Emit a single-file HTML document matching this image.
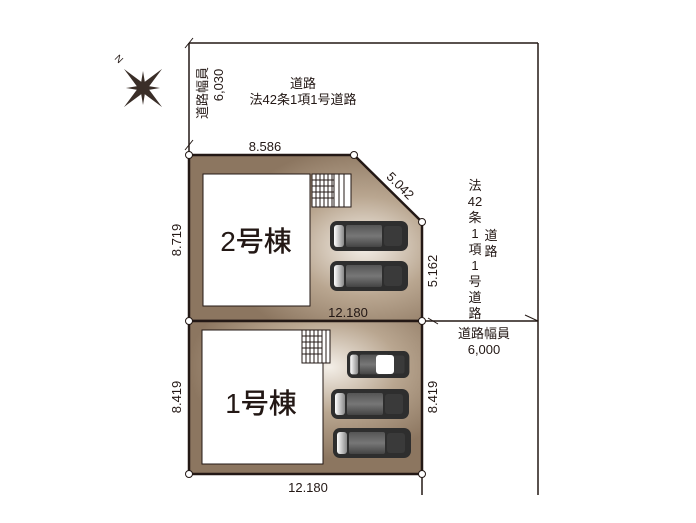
<!DOCTYPE html>
<html><head><meta charset="utf-8"><style>
html,body{margin:0;padding:0;background:#fff;}
svg{display:block;}
text{font-family:"Liberation Sans","Noto Sans CJK JP",sans-serif;fill:#231815;}
</style></head><body>
<svg width="696" height="523" viewBox="0 0 696 523" xmlns="http://www.w3.org/2000/svg">
<defs>
<radialGradient id="g2" cx="0.75" cy="0.55" r="0.6">
<stop offset="0" stop-color="#f4efe8"/><stop offset="0.5" stop-color="#b9a690"/><stop offset="1" stop-color="#8c7660"/>
</radialGradient>
<radialGradient id="g1" cx="0.6" cy="0.3" r="0.6">
<stop offset="0" stop-color="#f4efe8"/><stop offset="0.5" stop-color="#b9a690"/><stop offset="1" stop-color="#8c7660"/>
</radialGradient>
<linearGradient id="cw" x1="0" x2="1"><stop offset="0" stop-color="#fff"/><stop offset="1" stop-color="#888"/></linearGradient>
<linearGradient id="cb" x1="0" y1="0" x2="0" y2="1"><stop offset="0" stop-color="#555"/><stop offset="0.5" stop-color="#777"/><stop offset="1" stop-color="#444"/></linearGradient>
<g id="car">
<rect x="0" y="0" width="78" height="30" rx="7" fill="#2e2e2e"/>
<rect x="4" y="4" width="10" height="22" rx="3" fill="url(#cw)"/>
<rect x="16" y="4" width="36" height="22" rx="2" fill="url(#cb)"/>
<rect x="54" y="5" width="18" height="20" rx="3" fill="#3a3a3a"/>
</g>
</defs>
<g stroke="#231815" stroke-width="1.5" fill="none">
<line x1="189" y1="43" x2="538" y2="43"/>
<line x1="189" y1="43" x2="189" y2="155"/>
<line x1="538" y1="43" x2="538" y2="495"/>
<line x1="422" y1="321" x2="538" y2="321"/>
<line x1="422" y1="321" x2="422" y2="495"/>
<line x1="185" y1="48" x2="193" y2="38" stroke-width="1"/>
<line x1="185" y1="150" x2="193" y2="140" stroke-width="1"/>
<line x1="428" y1="318" x2="438" y2="324" stroke-width="1"/>
<line x1="525" y1="315" x2="538" y2="321" stroke-width="1"/>
</g>
<polygon points="189,155 354,155 422,222 422,321 189,321" fill="url(#g2)" stroke="#231815" stroke-width="2.5"/>
<rect x="189" y="321" width="233" height="153" fill="url(#g1)" stroke="#231815" stroke-width="2.5"/>
<rect x="203" y="174" width="107" height="132" fill="#fff" stroke="#231815" stroke-width="1"/>
<rect x="202" y="330" width="121" height="134" fill="#fff" stroke="#231815" stroke-width="1"/>
<g stroke="#231815" stroke-width="1" fill="#fff">
<rect x="312" y="174" width="39" height="33"/>
<path d="M316 174V207M320 174V207M324 174V207M328 174V207M332 174V207M312 180H334M312 186H334M312 192H334M312 198H334M334 174V207M339 174V207M344 174V207"/>
<rect x="302" y="330" width="28" height="33"/>
<path d="M306 330V363M310 330V363M314 330V363M318 330V363M302 336H322M302 342H322M302 348H322M302 354H322M322 330V363M326 330V363"/>
</g>
<use href="#car" x="330" y="221"/>
<use href="#car" x="330" y="261"/>
<g transform="translate(347,351) scale(0.8,0.9)"><use href="#car"/></g>
<rect x="376" y="355" width="18" height="19" rx="3" fill="#fff"/>
<use href="#car" x="331" y="389"/>
<use href="#car" x="333" y="428"/>
<g fill="#fff" stroke="#231815" stroke-width="1">
<circle cx="189" cy="155" r="3.5"/><circle cx="354" cy="155" r="3.5"/><circle cx="422" cy="222" r="3.5"/>
<circle cx="189" cy="321" r="3.5"/><circle cx="422" cy="321" r="3.5"/><circle cx="189" cy="474" r="3.5"/><circle cx="422" cy="474" r="3.5"/>
</g>
<g fill="#3a2e28" transform="translate(143,88)">
<polygon points="0,-27 3.5,-3 0,0 -3.5,-3" transform="rotate(45)"/>
<polygon points="0,-27 3.5,-3 0,0 -3.5,-3" transform="rotate(135)"/>
<polygon points="0,-27 3.5,-3 0,0 -3.5,-3" transform="rotate(225)"/>
<polygon points="0,-27 3.5,-3 0,0 -3.5,-3" transform="rotate(315)"/>
<polygon points="0,-17 2.5,-2 0,0 -2.5,-2" transform="rotate(0)"/>
<polygon points="0,-17 2.5,-2 0,0 -2.5,-2" transform="rotate(90)"/>
<polygon points="0,-17 2.5,-2 0,0 -2.5,-2" transform="rotate(180)"/>
<polygon points="0,-17 2.5,-2 0,0 -2.5,-2" transform="rotate(270)"/>
</g>
<text x="116" y="62" font-size="10" transform="rotate(45 119 58)">N</text>
<g font-size="13" text-anchor="middle">
<text x="303" y="88">道路</text>
<text x="303" y="104">法42条1項1号道路</text>
<text x="265" y="151">8.586</text>
<text x="400" y="190" transform="rotate(45 400 186)">5.042</text>
<text x="348" y="317">12.180</text>
<text x="308" y="492">12.180</text>
<text x="484" y="338">道路幅員</text>
<text x="484" y="354">6,000</text>
</g>
<g font-size="13" text-anchor="middle">
<text transform="translate(181,240) rotate(-90)">8.719</text>
<text transform="translate(181,397) rotate(-90)">8.419</text>
<text transform="translate(437,271) rotate(-90)">5.162</text>
<text transform="translate(437,397) rotate(-90)">8.419</text>
<text transform="translate(207,93) rotate(-90)">道路幅員</text>
<text transform="translate(223,85) rotate(-90)">6,030</text>
</g>
<g font-size="13" text-anchor="middle">
<text x="475" y="190">法</text><text x="475" y="206">42</text><text x="475" y="222">条</text>
<text x="475" y="238">1</text><text x="475" y="254">項</text><text x="475" y="270">1</text>
<text x="475" y="286">号</text><text x="475" y="302">道</text><text x="475" y="318">路</text>
<text x="491" y="240">道</text><text x="491" y="256">路</text>
</g>
<text x="256" y="251" font-size="28" text-anchor="middle" style="font-weight:500">2号棟</text>
<text x="261" y="413" font-size="28" text-anchor="middle" style="font-weight:500">1号棟</text>
</svg>
</body></html>
